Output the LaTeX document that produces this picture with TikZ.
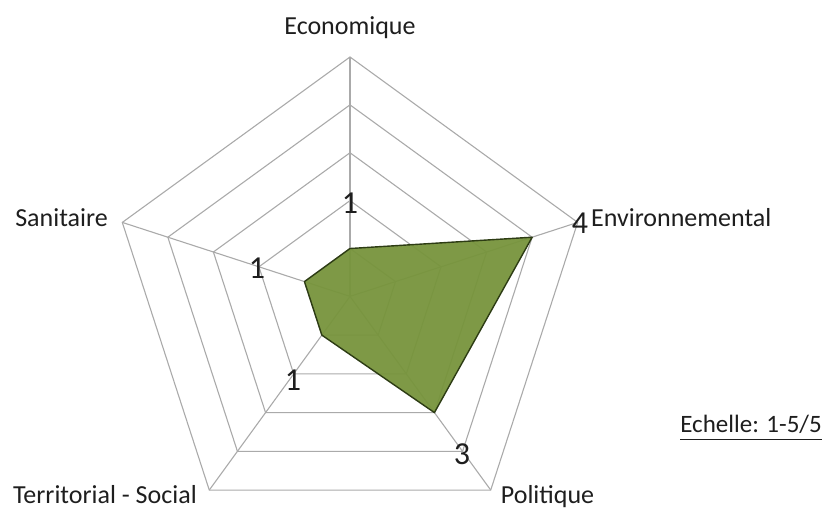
\documentclass[tikz,border=0pt]{standalone}
\usepackage{fontspec}
\setmainfont{Carlito}
\definecolor{gridgray}{RGB}{170,170,170}
\definecolor{olive}{RGB}{119,148,60}
\definecolor{darkolive}{RGB}{45,60,20}
\definecolor{txt}{RGB}{30,30,30}
\tikzset{
  gridline/.style={draw=gridgray, line width=1.1pt},
  datapoly/.style={fill=olive, fill opacity=0.95, draw=darkolive, line width=1.4pt, line join=round},
  axislabel/.style={font=\fontsize{26}{30}\selectfont, text=txt, inner sep=0pt},
  vallabel/.style={font=\fontsize{32}{36}\selectfont, text=txt, inner sep=0pt},
  scalelabel/.style={font=\fontsize{25}{29}\selectfont, text=txt, inner sep=0pt}
}
\begin{document}
\begin{tikzpicture}[x=1pt,y=1pt]
\useasboundingbox (-350,-213.6) rectangle (477,296.4);
\def\R{239.4}
% grid rings
\foreach \k in {1,...,5}{
  \draw[gridline] (90:\k*\R/5) -- (18:\k*\R/5) -- (-54:\k*\R/5) -- (-126:\k*\R/5) -- (162:\k*\R/5) -- cycle;
}
% spokes
\coordinate (O) at (0,0);
\foreach \a/\n in {90/eco,18/env,-54/pol,-126/ter,162/san}{
  \coordinate (\n) at (\a:\R);
  \draw[gridline] (O) -- (\n);
}
% data
\coordinate (deco) at (90:\R/5);
\coordinate (denv) at (18:4*\R/5);
\coordinate (dpol) at (-54:3*\R/5);
\coordinate (dter) at (-126:\R/5);
\coordinate (dsan) at (162:\R/5);
\path[datapoly] (deco) -- (denv) -- (dpol) -- (dter) -- (dsan) -- cycle;
% axis labels
\node[axislabel, anchor=base] (leco) at (0,261.4) {Economique};
\node[axislabel, anchor=base west] (lenv) at (241,69.4) {Environnemental};
\node[axislabel, anchor=base west] (lpol) at (150.7,-207.6) {Politique};
\node[axislabel, anchor=base east] (lter) at (-153,-207.6) {Territorial - Social};
\node[axislabel, anchor=base east] (lsan) at (-242,69.4) {Sanitaire};
% value labels
\node[vallabel] (veco) at (0,93) {1};
\node[vallabel] (venv) at (230,73) {4};
\node[vallabel] (vpol) at (112,-158) {3};
\node[vallabel] (vter) at (-57,-84) {1};
\node[vallabel] (vsan) at (-93,28) {1};
% scale
\node[scalelabel, anchor=base east] (scale) at (472,-136.6) {Echelle: 1-5/5};
\draw[txt, line width=1.6pt] ([yshift=-6.5pt]scale.base west) -- ([yshift=-6.5pt]scale.base east);
\end{tikzpicture}
\end{document}
